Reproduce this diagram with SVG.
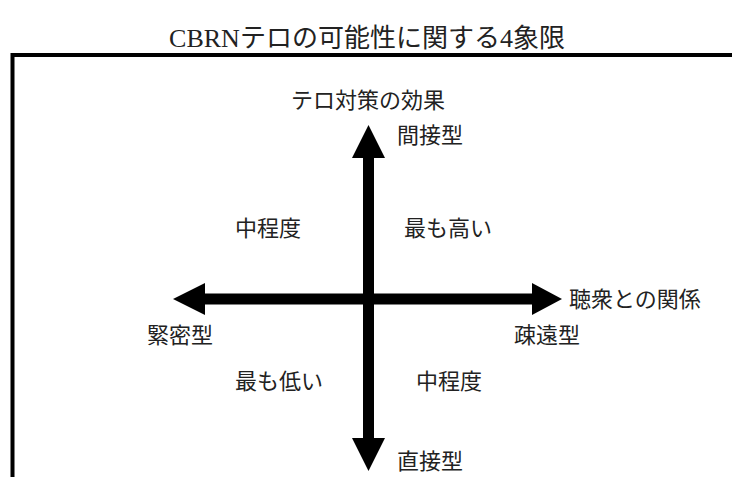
<svg xmlns="http://www.w3.org/2000/svg" width="732" height="477" viewBox="0 0 732 477">
<style>
.t{font-family:"Noto Sans CJK JP","Noto Sans CJK SC",sans-serif;font-size:22px;fill:#222}
.title{font-family:"Liberation Serif","Noto Sans CJK JP",serif;font-size:26px;fill:#222}
.ax{fill:#000}
</style>
<rect x="0" y="0" width="732" height="477" fill="#fff"/>
<text class="title" x="367" y="47" text-anchor="middle">CBRNテロの可能性に関する4象限</text>
<rect x="12.5" y="55" width="800" height="500" fill="none" stroke="#000" stroke-width="4"/>
<g id="connectors">
<polygon class="ax" points="363,158 352,158 368.5,125 385,158 374,158 374,438 385,438 368.5,471 352,438 363,438"/>
<polygon class="ax" points="205,293.5 205,283 173,299 205,315 205,304.5 532,304.5 532,315 562,299 532,283 532,293.5"/>
</g>
<g id="axis-v-label"><text class="t" x="368" y="108" text-anchor="middle">テロ対策の効果</text></g>
<g id="indirect"><text class="t" x="397" y="143">間接型</text></g>
<g id="q-tl"><text class="t" x="235" y="236">中程度</text></g>
<g id="q-tr"><text class="t" x="404" y="236">最も高い</text></g>
<g id="axis-h-label"><text class="t" x="569" y="307">聴衆との関係</text></g>
<g id="distant"><text class="t" x="514" y="343">疎遠型</text></g>
<g id="close"><text class="t" x="147" y="343">緊密型</text></g>
<g id="q-bl"><text class="t" x="235" y="389">最も低い</text></g>
<g id="q-br"><text class="t" x="416" y="389">中程度</text></g>
<g id="direct"><text class="t" x="397" y="469">直接型</text></g>
</svg>
